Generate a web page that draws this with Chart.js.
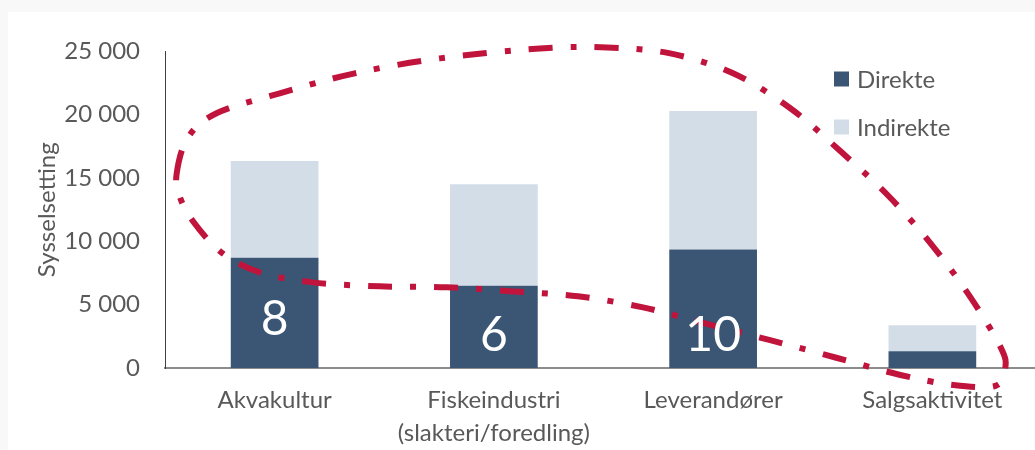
<!DOCTYPE html>
<html>
<head>
<meta charset="utf-8">
<script src="https://cdn.jsdelivr.net/npm/chart.js@4/dist/chart.umd.min.js"></script>
<style>
  html, body { margin: 0; padding: 0; background: #f8f8f8; overflow: hidden; }
  #wrap { position: absolute; left: 8px; top: 12px; width: 1034px; height: 438px; background: #fff; }
</style>
</head>
<body>
<div id="wrap"><canvas id="chart"></canvas></div>
<script>
// Data
const categories = ['Akvakultur', ['Fiskeindustri', '(slakteri/foredling)'], 'Leverandører', 'Salgsaktivitet'];
const direkte = [8700, 6500, 9350, 1330];
const indirekte = [7650, 8000, 10950, 2050];
const yTicks = [0, 5000, 10000, 15000, 20000, 25000];

// White numbers inside the dark bars, and the value where each sits
const barNumbers = ['8', '6', '10', ''];
const barNumberAt = [3800, 2600, 2600, 0];

// Hand drawn dash-dot loop, in category index / value units
const loopIdx = [-0.447, -0.397, -0.265, 0.023, 0.365, 0.753, 1.210, 1.516, 1.804, 2.091, 2.352, 2.580,
  2.799, 3.000, 3.174, 3.311, 3.333, 3.288, 3.096, 2.854, 2.566, 2.260, 1.941, 1.680, 1.384, 1.087,
  0.785, 0.479, 0.174, -0.068, -0.242, -0.374, -0.434];
const loopVal = [15330, 18160, 20120, 21690, 23270, 24450, 25230, 25310, 24840, 23270, 20510, 17130,
  13600, 9670, 5580, 1650, 0, -1410, -1340, -550, 790, 2200, 3620, 4790, 5660, 6050,
  6370, 6450, 6760, 7550, 9120, 11630, 13600];

const darkBlue = '#3a5674';
const lightBlue = '#d3dde8';
const red = '#c0143c';
const textGrey = '#595959';
const fontFamily = 'Lato, "Open Sans", sans-serif';

function fmt(v) {
  return String(v).replace(/\B(?=(\d{3})+(?!\d))/g, ' ');
}

const overlay = {
  id: 'overlay',
  afterDatasetsDraw(chart) {
    const ctx = chart.ctx;
    const xs = chart.scales.x, ys = chart.scales.y;

    // the loop
    const pts = loopIdx.map((v, i) => [xs.getPixelForValue(v), ys.getPixelForValue(loopVal[i])]);
    const n = pts.length;
    ctx.save();
    ctx.strokeStyle = red;
    ctx.lineWidth = 6;
    ctx.setLineDash([24, 18, 6, 18]);
    ctx.beginPath();
    ctx.moveTo(pts[0][0], pts[0][1]);
    for (let i = 0; i < n; i++) {
      const p0 = pts[(i - 1 + n) % n], p1 = pts[i], p2 = pts[(i + 1) % n], p3 = pts[(i + 2) % n];
      ctx.bezierCurveTo(
        p1[0] + (p2[0] - p0[0]) / 6, p1[1] + (p2[1] - p0[1]) / 6,
        p2[0] - (p3[0] - p1[0]) / 6, p2[1] - (p3[1] - p1[1]) / 6,
        p2[0], p2[1]);
    }
    ctx.closePath();
    ctx.stroke();
    ctx.restore();

    // numbers in the bars
    ctx.save();
    ctx.fillStyle = '#fff';
    ctx.font = '48px ' + fontFamily;
    ctx.textAlign = 'center';
    ctx.textBaseline = 'middle';
    barNumbers.forEach((t, i) => {
      if (!t) return;
      ctx.fillText(t, xs.getPixelForValue(i), ys.getPixelForValue(barNumberAt[i]));
    });
    ctx.restore();

    // legend
    ctx.save();
    ctx.font = '24px ' + fontFamily;
    ctx.textBaseline = 'middle';
    chart.data.datasets.forEach((ds, i) => {
      const y = 67 + i * 48;
      ctx.fillStyle = ds.backgroundColor;
      ctx.fillRect(826, y - 7.5, 15, 15);
      ctx.fillStyle = textGrey;
      ctx.fillText(ds.label, 849, y + 1);
    });
    ctx.restore();
  }
};

new Chart(document.getElementById('chart'), {
  type: 'bar',
  data: {
    labels: categories,
    datasets: [
      { label: 'Direkte', data: direkte, backgroundColor: darkBlue },
      { label: 'Indirekte', data: indirekte, backgroundColor: lightBlue }
    ]
  },
  options: {
    responsive: true,
    maintainAspectRatio: false,
    animation: false,
    layout: { padding: { top: 38, right: 0, left: 0, bottom: 0 } },
    datasets: { bar: { barPercentage: 0.4, categoryPercentage: 1 } },
    plugins: {
      legend: { display: false },
      tooltip: { enabled: false }
    },
    scales: {
      x: {
        stacked: true,
        grid: { display: false, drawTicks: false },
        border: { display: true, color: '#8c8c8c', width: 2 },
        ticks: { color: textGrey, font: { family: fontFamily, size: 24, lineHeight: 1.4 }, padding: 15, maxRotation: 0, autoSkip: false },
        afterFit(scale) { scale.height = 82; }
      },
      y: {
        stacked: true,
        min: 0,
        max: 25000,
        afterBuildTicks(scale) { scale.ticks = yTicks.map(v => ({ value: v })); },
        grid: { display: false, drawTicks: false },
        border: { display: true, color: '#404040', width: 1 },
        ticks: { color: textGrey, font: { family: fontFamily, size: 24 }, padding: 25, callback: v => fmt(v) },
        title: { display: true, text: 'Sysselsetting', color: textGrey, font: { family: fontFamily, size: 24 }, padding: { top: 25, bottom: 0 } },
        afterFit(scale) { scale.width = 157; }
      }
    }
  },
  plugins: [overlay]
});
</script>
</body>
</html>
